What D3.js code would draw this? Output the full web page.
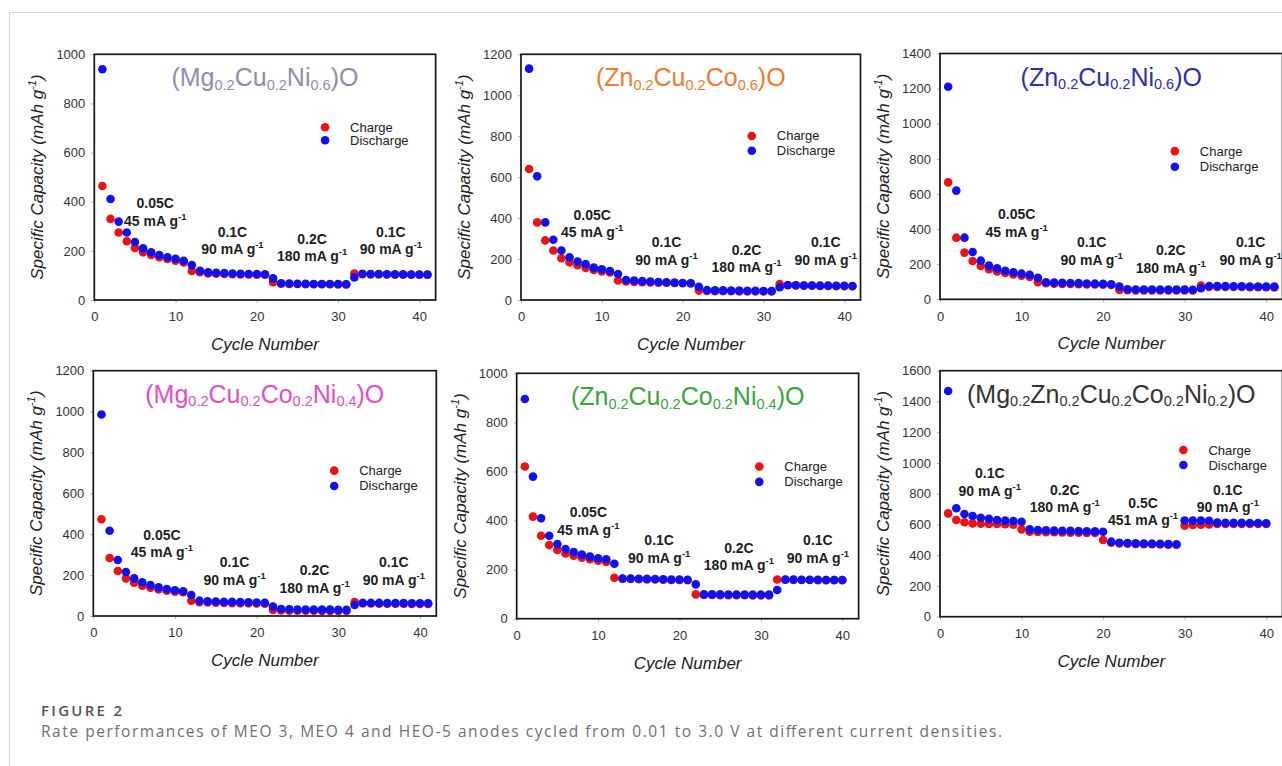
<!DOCTYPE html>
<html>
<head>
<meta charset="utf-8">
<script src="https://cdn.jsdelivr.net/npm/d3@7"></script>
<style>
	body { margin: 0; background: #fff; }
	svg text { font-family: "Liberation Sans", Arial, sans-serif; }
	.caption text { font-family: "Open Sans", "Noto Sans", sans-serif; }
</style>
</head>
<body>
<svg id="fig" width="1282" height="766"></svg>
<script>
(function () {

	// ---- data ----
	var titles = [
		"(Mg_{0.2}Cu_{0.2}Ni_{0.6})O",
		"(Zn_{0.2}Cu_{0.2}Co_{0.6})O",
		"(Zn_{0.2}Cu_{0.2}Ni_{0.6})O",
		"(Mg_{0.2}Cu_{0.2}Co_{0.2}Ni_{0.4})O",
		"(Zn_{0.2}Cu_{0.2}Co_{0.2}Ni_{0.4})O",
		"(Mg_{0.2}Zn_{0.2}Cu_{0.2}Co_{0.2}Ni_{0.2})O"
	];
	var yMax = [1000, 1200, 1400, 1200, 1000, 1600];
	var xTicks = [0, 10, 20, 30, 40];
	var seriesNames = ["Charge", "Discharge"];

	var charge1 = [464, 330, 275, 239, 212, 194, 183, 174, 167, 160, 153, 118, 113, 108, 107, 106, 105, 104, 104, 103, 103, 72, 66, 65, 65, 64, 64, 64, 64, 63, 63, 108, 105, 104, 104, 104, 103, 103, 103, 103, 103];
	var discharge1 = [939, 411, 319, 275, 236, 210, 194, 183, 174, 168, 160, 142, 119, 113, 111, 110, 108, 107, 106, 106, 105, 88, 68, 67, 66, 66, 65, 65, 65, 65, 64, 92, 107, 106, 106, 105, 105, 105, 104, 104, 104];

	var charge2 = [640, 379, 291, 242, 204, 184, 170, 157, 147, 140, 134, 95, 91, 88, 87, 86, 85, 84, 83, 82, 81, 46, 44, 43, 43, 43, 42, 42, 42, 42, 42, 78, 72, 71, 70, 70, 69, 69, 68, 68, 67];
	var discharge2 = [1130, 604, 379, 294, 242, 209, 188, 175, 158, 150, 142, 127, 98, 95, 92, 90, 88, 86, 85, 83, 82, 65, 48, 47, 47, 46, 46, 45, 45, 44, 44, 62, 73, 72, 71, 71, 70, 70, 69, 69, 68];

	var charge3 = [666, 351, 266, 218, 190, 171, 159, 150, 142, 135, 127, 97, 91, 89, 88, 87, 86, 85, 84, 83, 82, 53, 52, 51, 51, 51, 50, 50, 50, 50, 50, 78, 71, 71, 70, 70, 70, 69, 69, 69, 68];
	var discharge3 = [1211, 619, 351, 269, 220, 192, 176, 163, 154, 146, 139, 123, 97, 95, 94, 93, 92, 90, 89, 88, 86, 72, 57, 56, 56, 56, 55, 55, 55, 55, 54, 63, 76, 75, 75, 74, 74, 73, 73, 72, 72];

	var charge4 = [473, 284, 220, 184, 163, 148, 139, 130, 124, 119, 116, 75, 68, 66, 65, 64, 63, 62, 62, 61, 60, 29, 27, 26, 26, 26, 26, 25, 25, 25, 25, 68, 61, 61, 60, 60, 60, 60, 59, 59, 59];
	var discharge4 = [986, 417, 274, 215, 184, 165, 152, 140, 132, 126, 121, 103, 75, 72, 71, 70, 69, 68, 67, 66, 65, 46, 34, 33, 32, 32, 31, 31, 31, 30, 30, 54, 65, 64, 64, 63, 63, 63, 62, 62, 62];

	var charge5 = [620, 416, 338, 300, 280, 266, 257, 249, 242, 236, 231, 167, 163, 162, 161, 160, 160, 159, 158, 158, 157, 99, 97, 97, 96, 96, 96, 96, 95, 95, 95, 160, 159, 158, 158, 158, 157, 157, 157, 157];
	var discharge5 = [895, 579, 409, 338, 304, 284, 272, 261, 253, 246, 242, 224, 164, 164, 163, 163, 162, 161, 160, 160, 159, 140, 99, 99, 99, 98, 98, 98, 98, 98, 98, 117, 160, 160, 159, 159, 159, 158, 158, 158];

	var charge6 = [672, 629, 614, 607, 605, 603, 603, 601, 599, 568, 553, 551, 550, 549, 548, 547, 546, 545, 544, 499, 481, 477, 475, 473, 472, 471, 470, 469, 468, 592, 596, 598, 600, 603, 603, 603, 603, 603, 603, 603];
	var discharge6 = [1468, 705, 668, 655, 644, 636, 629, 625, 622, 618, 568, 564, 562, 560, 559, 558, 557, 556, 555, 553, 488, 481, 479, 477, 476, 475, 474, 472, 471, 625, 625, 625, 624, 612, 611, 610, 610, 609, 609, 608];

	var rateNotes = [["0.05C", "45 mA g^{-1}"], ["0.1C", "90 mA g^{-1}"], ["0.2C", "180 mA g^{-1}"], ["0.1C", "90 mA g^{-1}"]];
	var rateNotesHEO = [["0.1C", "90 mA g^{-1}"], ["0.2C", "180 mA g^{-1}"], ["0.5C", "451 mA g^{-1}"], ["0.1C", "90 mA g^{-1}"]];

	var captionHead = "FIGURE 2";
	var captionText = "Rate performances of MEO 3, MEO 4 and HEO-5 anodes cycled from 0.01 to 3.0 V at different current densities.";

	// ---- layout ----
	var titleColors = ["#8d8db3", "#f07a2c", "#2d2db8", "#e64cc6", "#36a63a", "#333333"];
	var chargeColor = "#f01010";
	var dischargeColor = "#1010f0";

	var boxes = [
		{l: 94.3, t: 54.3, r: 435.6, b: 300},
		{l: 521, t: 54.3, r: 860.5, b: 300},
		{l: 940, t: 53.5, r: 1282.5, b: 299.3},
		{l: 93.3, t: 370.7, r: 436.3, b: 616},
		{l: 516.7, t: 373.3, r: 858.6, b: 618.7},
		{l: 940, t: 370.7, r: 1282.5, b: 616.7}
	];
	// note anchors in data units (cycle, capacity) for the first line
	var noteAt = [
		[[7.5, 374], [17, 258], [26.8, 228], [36.5, 258]],
		[[8.8, 391], [18, 257], [27.9, 220], [37.7, 257]],
		[[9.4, 455], [18.6, 296], [28.3, 252], [38.1, 296]],
		[[8.4, 372], [17.3, 238], [27.1, 200], [36.8, 238]],
		[[8.8, 413], [17.5, 300], [27.3, 269], [37, 300]],
		[[6.1, 902], [15.3, 792], [24.9, 707], [35.3, 792]]
	];
	var legendAt = [[28.4, 703], [28.55, 801], [28.8, 844], [29.5, 711], [29.8, 620], [29.85, 1084]];
	var legendGap = [13, 14.7, 15.7, 15.3, 15.3, 15];

	var panels = [
		{charge: charge1, discharge: discharge1, notes: rateNotes},
		{charge: charge2, discharge: discharge2, notes: rateNotes},
		{charge: charge3, discharge: discharge3, notes: rateNotes},
		{charge: charge4, discharge: discharge4, notes: rateNotes},
		{charge: charge5, discharge: discharge5, notes: rateNotes},
		{charge: charge6, discharge: discharge6, notes: rateNotesHEO}
	];

	var svg = d3.select("#fig");

	// page frame
	svg.append("line").attr("x1", 9.5).attr("x2", 1282).attr("y1", 12.5).attr("y2", 12.5)
		.attr("stroke", "#d4d4d4").attr("stroke-width", 1);
	svg.append("line").attr("x1", 9.5).attr("x2", 9.5).attr("y1", 12.5).attr("y2", 766)
		.attr("stroke", "#d4d4d4").attr("stroke-width", 1);

	// text with _{sub} and ^{sup} parts
	function richText(sel, str, size, smallSize, subShift, supShift) {
		var parts = str.split(/(_\{[^}]*\}|\^\{[^}]*\})/).filter(function(s) { return s.length; });
		var off = 0;
		parts.forEach(function(s) {
			var kind = s[0] == "_" ? 1 : (s[0] == "^" ? -1 : 0);
			var txt = kind ? s.slice(2, -1) : s;
			var target = kind == 1 ? subShift : (kind == -1 ? -supShift : 0);
			sel.append("tspan")
				.attr("dy", target - off)
				.attr("font-size", kind ? smallSize : size)
				.text(txt);
			off = target;
		});
		return sel;
	}

	panels.forEach(function(p, i) {
		var b = boxes[i];
		var x = d3.scaleLinear().domain([0, 42]).range([b.l, b.r]);
		var y = d3.scaleLinear().domain([0, yMax[i]]).range([b.b, b.t]);
		var g = svg.append("g");

		var xAxis = g.append("g").attr("transform", "translate(0," + b.b + ")")
			.call(d3.axisBottom(x).tickValues(xTicks).tickFormat(d3.format("d")).tickSize(3).tickPadding(9));
		var yAxis = g.append("g").attr("transform", "translate(" + b.l + ",0)")
			.call(d3.axisLeft(y).tickValues(d3.range(0, yMax[i] + 1, 200)).tickFormat(d3.format("d")).tickSize(3).tickPadding(6));
		[xAxis, yAxis].forEach(function(a) {
			a.select(".domain").remove();
			a.selectAll(".tick line").attr("stroke", "#aaa");
			a.selectAll(".tick text").attr("fill", "#333").attr("font-size", 13)
				.style("font-family", "'Liberation Sans', Arial, sans-serif");
		});

		// points: charge below, discharge on top
		g.append("g").selectAll("circle").data(p.charge).enter().append("circle")
			.attr("cx", function(d, k) { return x(k + 1); })
			.attr("cy", function(d) { return y(d); })
			.attr("r", 4.3)
			.attr("fill", chargeColor);
		g.append("g").selectAll("circle").data(p.discharge).enter().append("circle")
			.attr("cx", function(d, k) { return x(k + 1); })
			.attr("cy", function(d) { return y(d); })
			.attr("r", 4.3)
			.attr("fill", dischargeColor);

		// frame
		g.append("rect").attr("x", b.l).attr("y", b.t)
			.attr("width", b.r - b.l).attr("height", b.b - b.t)
			.attr("fill", "none").attr("stroke", "#161616").attr("stroke-width", 1.7);

		// title
		richText(g.append("text")
			.attr("x", (b.l + b.r) / 2).attr("y", b.t + 32)
			.attr("text-anchor", "middle").attr("fill", titleColors[i]),
			titles[i], 25, 14.5, 3.5, 0);

		// legend
		var lx = x(legendAt[i][0]), ly = y(legendAt[i][1]);
		[chargeColor, dischargeColor].forEach(function(c, k) {
			g.append("circle").attr("cx", lx).attr("cy", ly + k * legendGap[i]).attr("r", 4.3).attr("fill", c);
			g.append("text").attr("x", lx + 25).attr("y", ly + k * legendGap[i] + 4.5)
				.attr("font-size", 13).attr("fill", "#222").text(seriesNames[k]);
		});

		// rate notes
		p.notes.forEach(function(n, k) {
			var at = noteAt[i][k];
			var t = g.append("text").attr("text-anchor", "middle")
				.attr("font-size", 14).attr("font-weight", "bold").attr("fill", "#1e1e1e");
			t.append("tspan").attr("x", x(at[0])).attr("y", y(at[1])).text(n[0]);
			var t2 = g.append("text").attr("text-anchor", "middle")
				.attr("x", x(at[0])).attr("y", y(at[1]) + 17.5)
				.attr("font-weight", "bold").attr("fill", "#1e1e1e");
			richText(t2, n[1], 14, 9.5, 0, 6);
		});

		// axis titles
		richText(g.append("text")
			.attr("transform", "translate(" + (b.l - 57) + "," + ((b.t + b.b) / 2) + ") rotate(-90)")
			.attr("y", 6).attr("text-anchor", "middle")
			.attr("font-style", "italic").attr("fill", "#222"),
			"Specific Capacity (mAh g^{-1})", 17, 11, 0, 7);
		g.append("text")
			.attr("x", (b.l + b.r) / 2).attr("y", b.b + 50)
			.attr("text-anchor", "middle").attr("font-style", "italic")
			.attr("font-size", 17).attr("fill", "#222")
			.text("Cycle Number");
	});

	// caption
	var cap = svg.append("g").attr("class", "caption");
	cap.append("text").attr("x", 41).attr("y", 715.5)
		.attr("font-size", 15).attr("font-weight", 600).attr("fill", "#555")
		.attr("textLength", 81).attr("lengthAdjust", "spacing")
		.text(captionHead);
	cap.append("text").attr("x", 41).attr("y", 737)
		.attr("font-size", 15.5).attr("fill", "#707070")
		.attr("textLength", 961).attr("lengthAdjust", "spacing")
		.text(captionText);
}());
</script>
</body>
</html>
